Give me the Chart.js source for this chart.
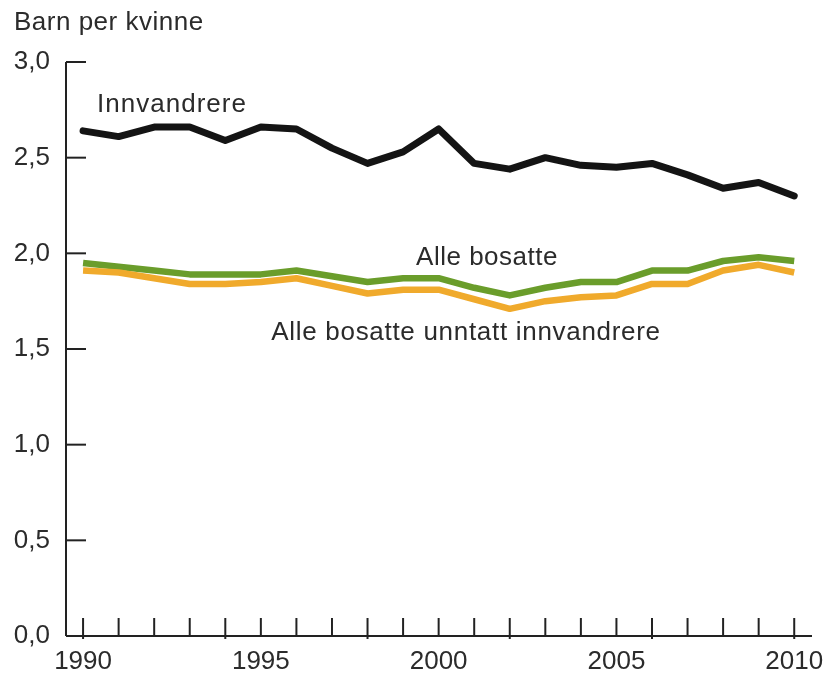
<!DOCTYPE html>
<html>
<head>
<meta charset="utf-8">
<script src="https://cdn.jsdelivr.net/npm/chart.js@4"></script>
<style>
  html,body{margin:0;padding:0;background:#fff;}
  #wrap{width:825px;height:686px;position:relative;}
</style>
</head>
<body>
<div id="wrap"><canvas id="chart" width="825" height="686"></canvas></div>
<script>
// === Dados ===
const years = [1990,1991,1992,1993,1994,1995,1996,1997,1998,1999,2000,2001,2002,2003,2004,2005,2006,2007,2008,2009,2010];
const innvandrere = [2.64,2.61,2.66,2.66,2.59,2.66,2.65,2.55,2.47,2.53,2.65,2.47,2.44,2.50,2.46,2.45,2.47,2.41,2.34,2.37,2.30];
const alleBosatte = [1.95,1.93,1.91,1.89,1.89,1.89,1.91,1.88,1.85,1.87,1.87,1.82,1.78,1.82,1.85,1.85,1.91,1.91,1.96,1.98,1.96];
const unntattInnv = [1.91,1.90,1.87,1.84,1.84,1.85,1.87,1.83,1.79,1.81,1.81,1.76,1.71,1.75,1.77,1.78,1.84,1.84,1.91,1.94,1.90];
const yTicks = [0,0.5,1.0,1.5,2.0,2.5,3.0];
const xLabelYears = [1990,1995,2000,2005,2010];
const majorTickYears = [1990,1994,1998,2002,2006,2010];

const FONT = "'Liberation Sans', Arial, sans-serif";
const TXT = "#2b2b2b";

function pts(vals){
  return years.map((y,i)=>({x:y,y:vals[i]}));
}

// === Eixos desenhados à mão (ticks para dentro) ===
const axesPlugin = {
  id:"axesPlugin",
  afterDatasetsDraw(chart){
    const {ctx, chartArea, scales:{x,y}} = chart;
    ctx.save();
    ctx.strokeStyle = "#222";
    ctx.lineWidth = 2;
    ctx.lineCap = "butt";
    // eixo y
    ctx.beginPath();
    ctx.moveTo(chartArea.left, y.getPixelForValue(3.0));
    ctx.lineTo(chartArea.left, y.getPixelForValue(0));
    ctx.stroke();
    // eixo x
    ctx.beginPath();
    ctx.moveTo(chartArea.left, y.getPixelForValue(0));
    ctx.lineTo(chartArea.right, y.getPixelForValue(0));
    ctx.stroke();
    // ticks y
    yTicks.forEach(v=>{
      if(v===0) return;
      const py = y.getPixelForValue(v);
      ctx.beginPath();
      ctx.moveTo(chartArea.left, py);
      ctx.lineTo(chartArea.left+20, py);
      ctx.stroke();
    });
    // ticks x
    const base = y.getPixelForValue(0);
    years.forEach(yr=>{
      const px = x.getPixelForValue(yr);
      const major = majorTickYears.includes(yr);
      ctx.beginPath();
      ctx.moveTo(px, base-18);
      ctx.lineTo(px, major ? base+3 : base);
      ctx.stroke();
    });
    ctx.restore();
  },
  afterDraw(chart){
    const {ctx} = chart;
    ctx.save();
    ctx.fillStyle = TXT;
    ctx.font = "26px " + FONT;
    ctx.textBaseline = "alphabetic";
    ctx.textAlign = "left";
    ctx.letterSpacing = "0.5px";
    ctx.fillText("Barn per kvinne", 14, 30);
    ctx.textAlign = "center";
    ctx.letterSpacing = "1px";
    ctx.fillText("Innvandrere", 172, 112);
    ctx.letterSpacing = "0.5px";
    ctx.fillText("Alle bosatte", 487, 265);
    ctx.letterSpacing = "0.7px";
    ctx.fillText("Alle bosatte unntatt innvandrere", 466, 340);
    ctx.restore();
  }
};

new Chart(document.getElementById("chart"),{
  type:"line",
  data:{
    datasets:[
      {label:"Innvandrere",data:pts(innvandrere),borderColor:"#141414",borderWidth:7,pointRadius:0,tension:0,borderJoinStyle:"round",borderCapStyle:"round"},
      {label:"Alle bosatte unntatt innvandrere",data:pts(unntattInnv),borderColor:"#f0aa2c",borderWidth:6.5,pointRadius:0,tension:0,borderJoinStyle:"round"},
      {label:"Alle bosatte",data:pts(alleBosatte),borderColor:"#6a9d2b",borderWidth:6.5,pointRadius:0,tension:0,borderJoinStyle:"round"}
    ]
  },
  options:{
    responsive:false,
    animation:false,
    layout:{padding:{top:62,right:13,left:0,bottom:0}},
    plugins:{legend:{display:false},tooltip:{enabled:false}},
    scales:{
      x:{
        type:"linear",
        min:1989.52,
        max:2010.5,
        grid:{display:false,drawTicks:false},
        border:{display:false},
        ticks:{
          stepSize:1,
          includeBounds:false,
          autoSkip:false,
          maxRotation:0,
          padding:10,
          color:TXT,
          font:{family:FONT,size:26},
          callback:v=>xLabelYears.includes(v)?String(v):""
        },
        afterFit(scale){ scale.height = 50; scale.paddingLeft = 0; scale.paddingRight = 0; }
      },
      y:{
        min:0,
        max:3,
        grid:{display:false,drawTicks:false},
        border:{display:false},
        ticks:{
          stepSize:0.5,
          padding:16,
          color:TXT,
          font:{family:FONT,size:26},
          callback:v=>v.toFixed(1).replace(".",",")
        },
        afterFit(scale){ scale.width = 66; scale.paddingTop = 0; scale.paddingBottom = 0; }
      }
    }
  },
  plugins:[axesPlugin]
});
</script>
</body>
</html>
